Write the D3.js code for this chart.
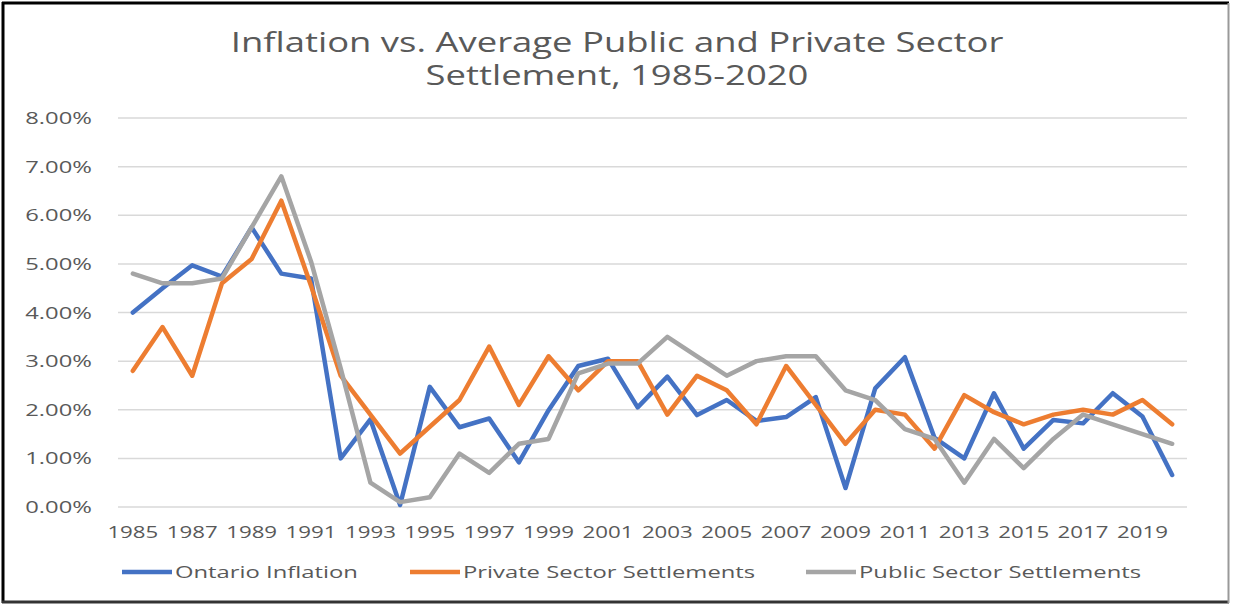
<!DOCTYPE html>
<html>
<head>
<meta charset="utf-8">
<script src="https://cdn.jsdelivr.net/npm/d3@7"></script>
<style>
  body { margin: 0; background: #fff; }
  text { font-family: "Open Sans", sans-serif; fill: #595959; }
</style>
</head>
<body>
<div id="chart"></div>
<script>
// values (percent)
var years = [1985, 1986, 1987, 1988, 1989, 1990, 1991, 1992, 1993, 1994, 1995, 1996,
  1997, 1998, 1999, 2000, 2001, 2002, 2003, 2004, 2005, 2006, 2007, 2008,
  2009, 2010, 2011, 2012, 2013, 2014, 2015, 2016, 2017, 2018, 2019, 2020];

var ontarioInflation = [4.0, 4.5, 4.97, 4.74, 5.75, 4.8, 4.7, 1.0, 1.8, 0.04, 2.47, 1.64,
  1.82, 0.92, 1.99, 2.9, 3.05, 2.05, 2.68, 1.89, 2.2, 1.77, 1.85, 2.26,
  0.39, 2.44, 3.08, 1.42, 1.0, 2.34, 1.2, 1.79, 1.72, 2.34, 1.86, 0.66];

var privateSettlements = [2.8, 3.7, 2.7, 4.6, 5.1, 6.3, 4.55, 2.7, 1.9, 1.1, 1.65, 2.2,
  3.3, 2.1, 3.1, 2.4, 3.0, 3.0, 1.9, 2.7, 2.4, 1.7, 2.9, 2.1,
  1.3, 2.0, 1.9, 1.2, 2.3, 1.95, 1.7, 1.9, 2.0, 1.9, 2.2, 1.7];

var publicSettlements = [4.8, 4.6, 4.6, 4.7, 5.75, 6.8, 5.05, 2.85, 0.5, 0.1, 0.2, 1.1,
  0.7, 1.3, 1.4, 2.75, 2.95, 2.95, 3.5, 3.1, 2.7, 3.0, 3.1, 3.1,
  2.4, 2.2, 1.6, 1.4, 0.5, 1.4, 0.8, 1.4, 1.9, 1.7, 1.5, 1.3];

var xTickLabels = [1985, 1987, 1989, 1991, 1993, 1995, 1997, 1999, 2001, 2003,
  2005, 2007, 2009, 2011, 2013, 2015, 2017, 2019];
var yTickValues = [0, 1, 2, 3, 4, 5, 6, 7, 8];

var seriesNames = ["Ontario Inflation", "Private Sector Settlements", "Public Sector Settlements"];
var seriesColors = ["#4472C4", "#ED7D31", "#A5A5A5"];

var W = 1233, H = 604;
var plot = {left: 118, right: 1187, top: 118, bottom: 507};

var svg = d3.select("#chart").append("svg")
  .attr("width", W)
  .attr("height", H);

svg.append("rect").attr("width", W).attr("height", H).attr("fill", "#fff");

var x = d3.scaleBand()
  .domain(years)
  .range([plot.left, plot.right]);

var y = d3.scaleLinear()
  .domain([0, 8])
  .range([plot.bottom, plot.top]);

function cx(d) { return x(d) + x.bandwidth() / 2; }

// the picture is stretched sideways, so text gets a horizontal scale
function stretched(g, tx, ty, str, anchor, size, sx) {
  return g.append("text")
    .attr("transform", "translate(" + tx + "," + ty + ") scale(" + sx + ",1)")
    .attr("text-anchor", anchor)
    .style("font-size", size + "px")
    .text(str);
}

// title
stretched(svg, 617, 52, "Inflation vs. Average Public and Private Sector", "middle", 27, 1.35);
stretched(svg, 617, 85, "Settlement, 1985-2020", "middle", 27, 1.35);

// gridlines
svg.append("g").selectAll("line")
  .data(yTickValues)
  .join("line")
  .attr("x1", plot.left)
  .attr("x2", plot.right)
  .attr("y1", function(d) { return y(d); })
  .attr("y2", function(d) { return y(d); })
  .style("stroke", "#D9D9D9")
  .style("stroke-width", 1.5);

// y labels
var yl = svg.append("g");
yTickValues.forEach(function(v) {
  stretched(yl, 92, y(v) + 6, d3.format(".2f")(v) + "%", "end", 17, 1.4);
});

// x labels
var xl = svg.append("g");
xTickLabels.forEach(function(v) {
  stretched(xl, cx(v), 538, String(v), "middle", 16.5, 1.35);
});

// lines
var line = d3.line()
  .x(function(d, i) { return cx(years[i]); })
  .y(function(d) { return y(d); });

[ontarioInflation, privateSettlements, publicSettlements].forEach(function(s, i) {
  svg.append("path")
    .datum(s)
    .attr("d", line)
    .attr("fill", "none")
    .style("stroke", seriesColors[i])
    .style("stroke-width", 4.5)
    .style("stroke-linejoin", "round")
    .style("stroke-linecap", "round");
});

// legend
var legendX = [122, 410, 806];
var lg = svg.append("g");
seriesNames.forEach(function(name, i) {
  lg.append("line")
    .attr("x1", legendX[i]).attr("x2", legendX[i] + 50)
    .attr("y1", 572).attr("y2", 572)
    .style("stroke", seriesColors[i])
    .style("stroke-width", 4.5);
  stretched(lg, legendX[i] + 53, 578, name, "start", 17, 1.4);
});

// frame
svg.append("line").attr("x1", 3).attr("x2", 3).attr("y1", 2).attr("y2", 603)
  .style("stroke", "#000").style("stroke-width", 3);
svg.append("line").attr("x1", 2).attr("x2", 1229).attr("y1", 3).attr("y2", 3)
  .style("stroke", "#000").style("stroke-width", 3);
svg.append("line").attr("x1", 2).attr("x2", 1229).attr("y1", 602).attr("y2", 602)
  .style("stroke", "#333").style("stroke-width", 3);
svg.append("line").attr("x1", 1228.5).attr("x2", 1228.5).attr("y1", 3).attr("y2", 603)
  .style("stroke", "#999").style("stroke-width", 2);
</script>
</body>
</html>
